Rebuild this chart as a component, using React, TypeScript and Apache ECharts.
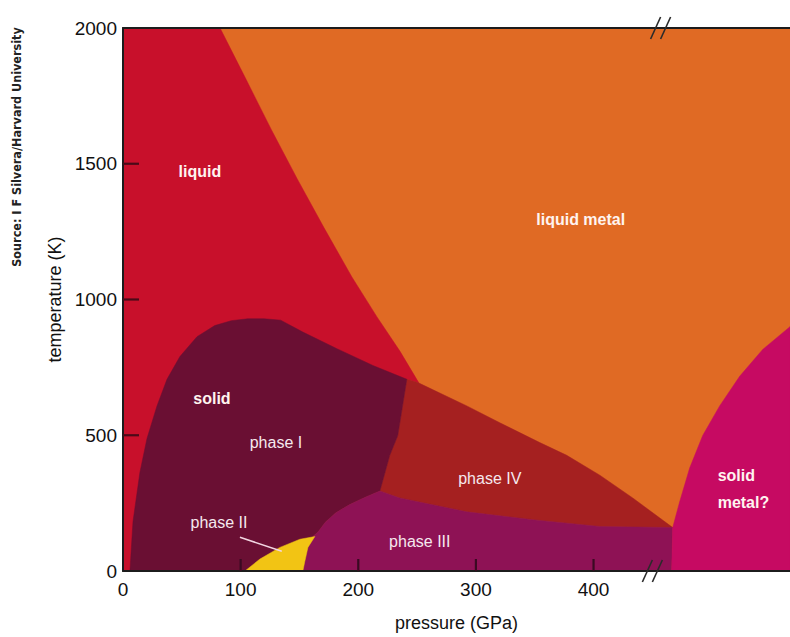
import React, { useEffect, useRef } from "react";
import * as echarts from "echarts";

// ---- axes ----
const X_MAX = 567; // right edge of the (broken) pressure axis, GPa
const Y_MAX = 2000;
const X_TICK_LABELS = [0, 100, 200, 300, 400];
const X_TICK_MARKS = [100, 200, 300, 400];
const Y_TICK_MARKS = [500, 1000, 1500];
const BREAK_TOP = 457;
const BREAK_BOTTOM = 450;

// ---- phase regions: [pressure GPa, temperature K] ----
const meltingCurve = [
  [82.5, 2000], [104.6, 1811], [125.8, 1628], [147.9, 1446], [170.9, 1264],
  [194.7, 1082], [215.9, 936], [235.5, 809], [251.6, 692],
];
const liquidRegion = [
  [0, 0], [0, 2000], ...meltingCurve, [241.3, 706], [160, 300], [150, 0],
];
const phaseIVRegion = [
  [241.3, 706], [251.6, 692], [292.3, 608], [320.3, 546], [354.3, 473],
  [377.2, 426], [405.3, 353], [433.3, 269], [467.3, 160], [405.3, 164],
  [348.3, 189], [292.3, 218], [235.3, 269], [218.4, 295], [226.8, 426],
  [233.6, 499],
];
const phaseIRegion = [
  [5.9, 0], [8.5, 182], [14.4, 364], [20.4, 488], [28.9, 608], [37.4, 706],
  [48.4, 790], [62.9, 863], [78, 904], [92, 922], [106, 929], [120, 929],
  [134, 924], [152.9, 880], [181.8, 819], [212.4, 757], [241.3, 706],
  [233.6, 499], [226.8, 426], [218.4, 295], [205, 270], [192, 243],
  [181, 215], [172, 180], [166, 145], [161.4, 127], [155, 0],
];
const phaseIIIRegion = [
  [218.4, 295], [235.3, 269], [292.3, 218], [348.3, 189], [405.3, 164],
  [467.3, 160], [466.4, 0], [152.9, 0], [154.6, 36], [157.2, 87],
  [161.4, 127], [166, 145], [172, 180], [181, 215], [192, 243], [205, 270],
];
const phaseIIRegion = [
  [103.7, 0], [116.4, 44], [133.4, 87], [150.4, 117], [163.1, 127],
  [157.2, 87], [154.6, 36], [152.9, 0],
];
const solidMetalRegion = [
  [466.4, 0], [467.3, 160], [473.2, 255], [481.7, 379], [492.8, 499],
  [507.2, 608], [524.2, 717], [543.8, 816], [567, 900], [567, 0],
];

// ---- annotations ----
const labelTexts = ["liquid", "liquid metal", "solid", "phase I", "phase II", "phase III", "phase IV", "solid\nmetal?"];
const labelP = [65.4, 389.1, 75.6, 130, 81.6, 252.3, 311.8, 505.5];
const labelT = [1471, 1293, 637, 473, 178, 109, 339, 302];
const labelBold = [true, true, true, false, false, false, false, true];
const labelAlign = ["center", "center", "center", "center", "center", "center", "center", "left"];
const phaseIILeader = [[99.4, 124], [135, 73]];

const COLORS = {
  liquidMetal: "#e06a24",
  liquid: "#c8102b",
  phaseI: "#6a0f33",
  phaseII: "#f2c414",
  phaseIII: "#8e1255",
  phaseIV: "#a52020",
  solidMetal: "#c60a62",
};

const FONT = "'Liberation Sans', Arial, sans-serif";

function region(name: string, pts: number[][], color: string) {
  return {
    type: "custom",
    name,
    coordinateSystem: "cartesian2d",
    silent: true,
    clip: true,
    data: [[0, 0]],
    renderItem: (_p: any, api: any) => ({
      type: "polygon",
      shape: { points: pts.map((p) => api.coord(p)) },
      style: { fill: color, stroke: color, lineWidth: 0.5 },
    }),
  };
}

export default function App() {
  const ref = useRef<HTMLDivElement>(null);
  useEffect(() => {
    if (!ref.current) return;
    const chart = echarts.init(ref.current, null, { renderer: "svg" });
    const option: any = {
      animation: false,
      backgroundColor: "#ffffff",
      grid: {
        left: 123, right: 0, top: 28, bottom: 60,
        show: true, backgroundColor: COLORS.liquidMetal, borderWidth: 0,
      },
      xAxis: [
        {
          type: "value", min: 0, max: X_MAX, interval: 100, position: "bottom",
          axisLine: { show: true, lineStyle: { color: "#1c1c1c", width: 2 } },
          axisTick: { show: false },
          axisLabel: { customValues: X_TICK_LABELS, fontSize: 19, color: "#111", margin: 9, fontFamily: FONT },
          splitLine: { show: false },
          name: "pressure (GPa)", nameLocation: "middle", nameGap: 43,
          nameTextStyle: { fontSize: 18, color: "#111", fontFamily: FONT },
          z: 10,
        },
        {
          type: "value", min: 0, max: X_MAX, position: "top",
          axisLine: { show: true, lineStyle: { color: "#1c1c1c", width: 2 } },
          axisTick: { show: false }, axisLabel: { show: false }, splitLine: { show: false },
          z: 10,
        },
      ],
      yAxis: {
        type: "value", min: 0, max: Y_MAX, interval: 500,
        axisLine: { show: true, lineStyle: { color: "#1c1c1c", width: 2 } },
        axisTick: { show: false },
        axisLabel: { fontSize: 19, color: "#111", margin: 6, fontFamily: FONT, formatter: (v: number) => String(v) },
        splitLine: { show: false },
        name: "temperature (K)", nameLocation: "middle", nameGap: 53, nameRotate: 90,
        nameTextStyle: { fontSize: 18, color: "#111", fontFamily: FONT },
        z: 10,
      },
      graphic: [
        {
          type: "text", x: 16, y: 147, rotation: Math.PI / 2,
          style: {
            text: "Source: I F Silvera/Harvard University",
            fill: "#222", font: "bold 12.5px 'Liberation Sans Narrow', 'DejaVu Sans Condensed', sans-serif",
            textAlign: "center", textVerticalAlign: "middle", align: "center", verticalAlign: "middle",
          },
        },
      ],
      series: [
        region("liquid", liquidRegion, COLORS.liquid),
        region("phase IV", phaseIVRegion, COLORS.phaseIV),
        region("phase I", phaseIRegion, COLORS.phaseI),
        region("phase III", phaseIIIRegion, COLORS.phaseIII),
        region("phase II", phaseIIRegion, COLORS.phaseII),
        region("solid metal", solidMetalRegion, COLORS.solidMetal),
        // phase II leader line, inward ticks and axis breaks
        {
          type: "custom", coordinateSystem: "cartesian2d", silent: true, clip: false,
          data: [[0, 0]],
          renderItem: (_p: any, api: any) => {
            const a = api.coord(phaseIILeader[0]);
            const b = api.coord(phaseIILeader[1]);
            const children: any[] = [
              {
                type: "line",
                shape: { x1: a[0], y1: a[1], x2: b[0], y2: b[1] },
                style: { stroke: "#f2d6e2", lineWidth: 1.5 },
              },
            ];
            Y_TICK_MARKS.forEach((v) => {
              const c = api.coord([0, v]);
              children.push({
                type: "polygon",
                shape: { points: [[c[0], c[1] - 1.1], [c[0] + 16, c[1] - 1.1], [c[0] + 16, c[1] + 1.1], [c[0], c[1] + 1.1]] },
                style: { fill: "#4a0a18" },
              });
            });
            X_TICK_MARKS.forEach((v) => {
              const c = api.coord([v, 0]);
              children.push({
                type: "polygon",
                shape: { points: [[c[0] - 1.1, c[1]], [c[0] - 1.1, c[1] - 12], [c[0] + 1.1, c[1] - 12], [c[0] + 1.1, c[1]]] },
                style: { fill: "#3a0a22" },
              });
            });
            [[BREAK_TOP, Y_MAX], [BREAK_BOTTOM, 0]].forEach((bp) => {
              const c = api.coord(bp);
              [-5, 5].forEach((dx) => {
                children.push({
                  type: "line",
                  shape: { x1: c[0] + dx - 5, y1: c[1] + 11, x2: c[0] + dx + 5, y2: c[1] - 11 },
                  style: { stroke: "#2b2b2b", lineWidth: 1.6 },
                });
              });
            });
            return { type: "group", children };
          },
          z: 20,
        },
        {
          type: "custom", coordinateSystem: "cartesian2d", silent: true, clip: false,
          data: labelTexts.map((_, i) => [labelP[i], labelT[i]]),
          renderItem: (params: any, api: any) => {
            const i = params.dataIndex;
            const c = api.coord([labelP[i], labelT[i]]);
            return {
              type: "text", x: c[0], y: c[1],
              style: {
                text: labelTexts[i],
                fill: labelBold[i] ? "#fff4f0" : "#f5e8ee",
                font: (labelBold[i] ? "bold 16px " : "16px ") + FONT,
                lineHeight: 27,
                textAlign: labelAlign[i], textVerticalAlign: "middle",
                align: labelAlign[i], verticalAlign: "middle",
              },
            };
          },
        },
      ],
    };
    chart.setOption(option);
    return () => chart.dispose();
  }, []);
  return (
    <div
      ref={ref}
      style={{ position: "fixed", left: 0, top: 0, width: 790, height: 637 }}
    />
  );
}
